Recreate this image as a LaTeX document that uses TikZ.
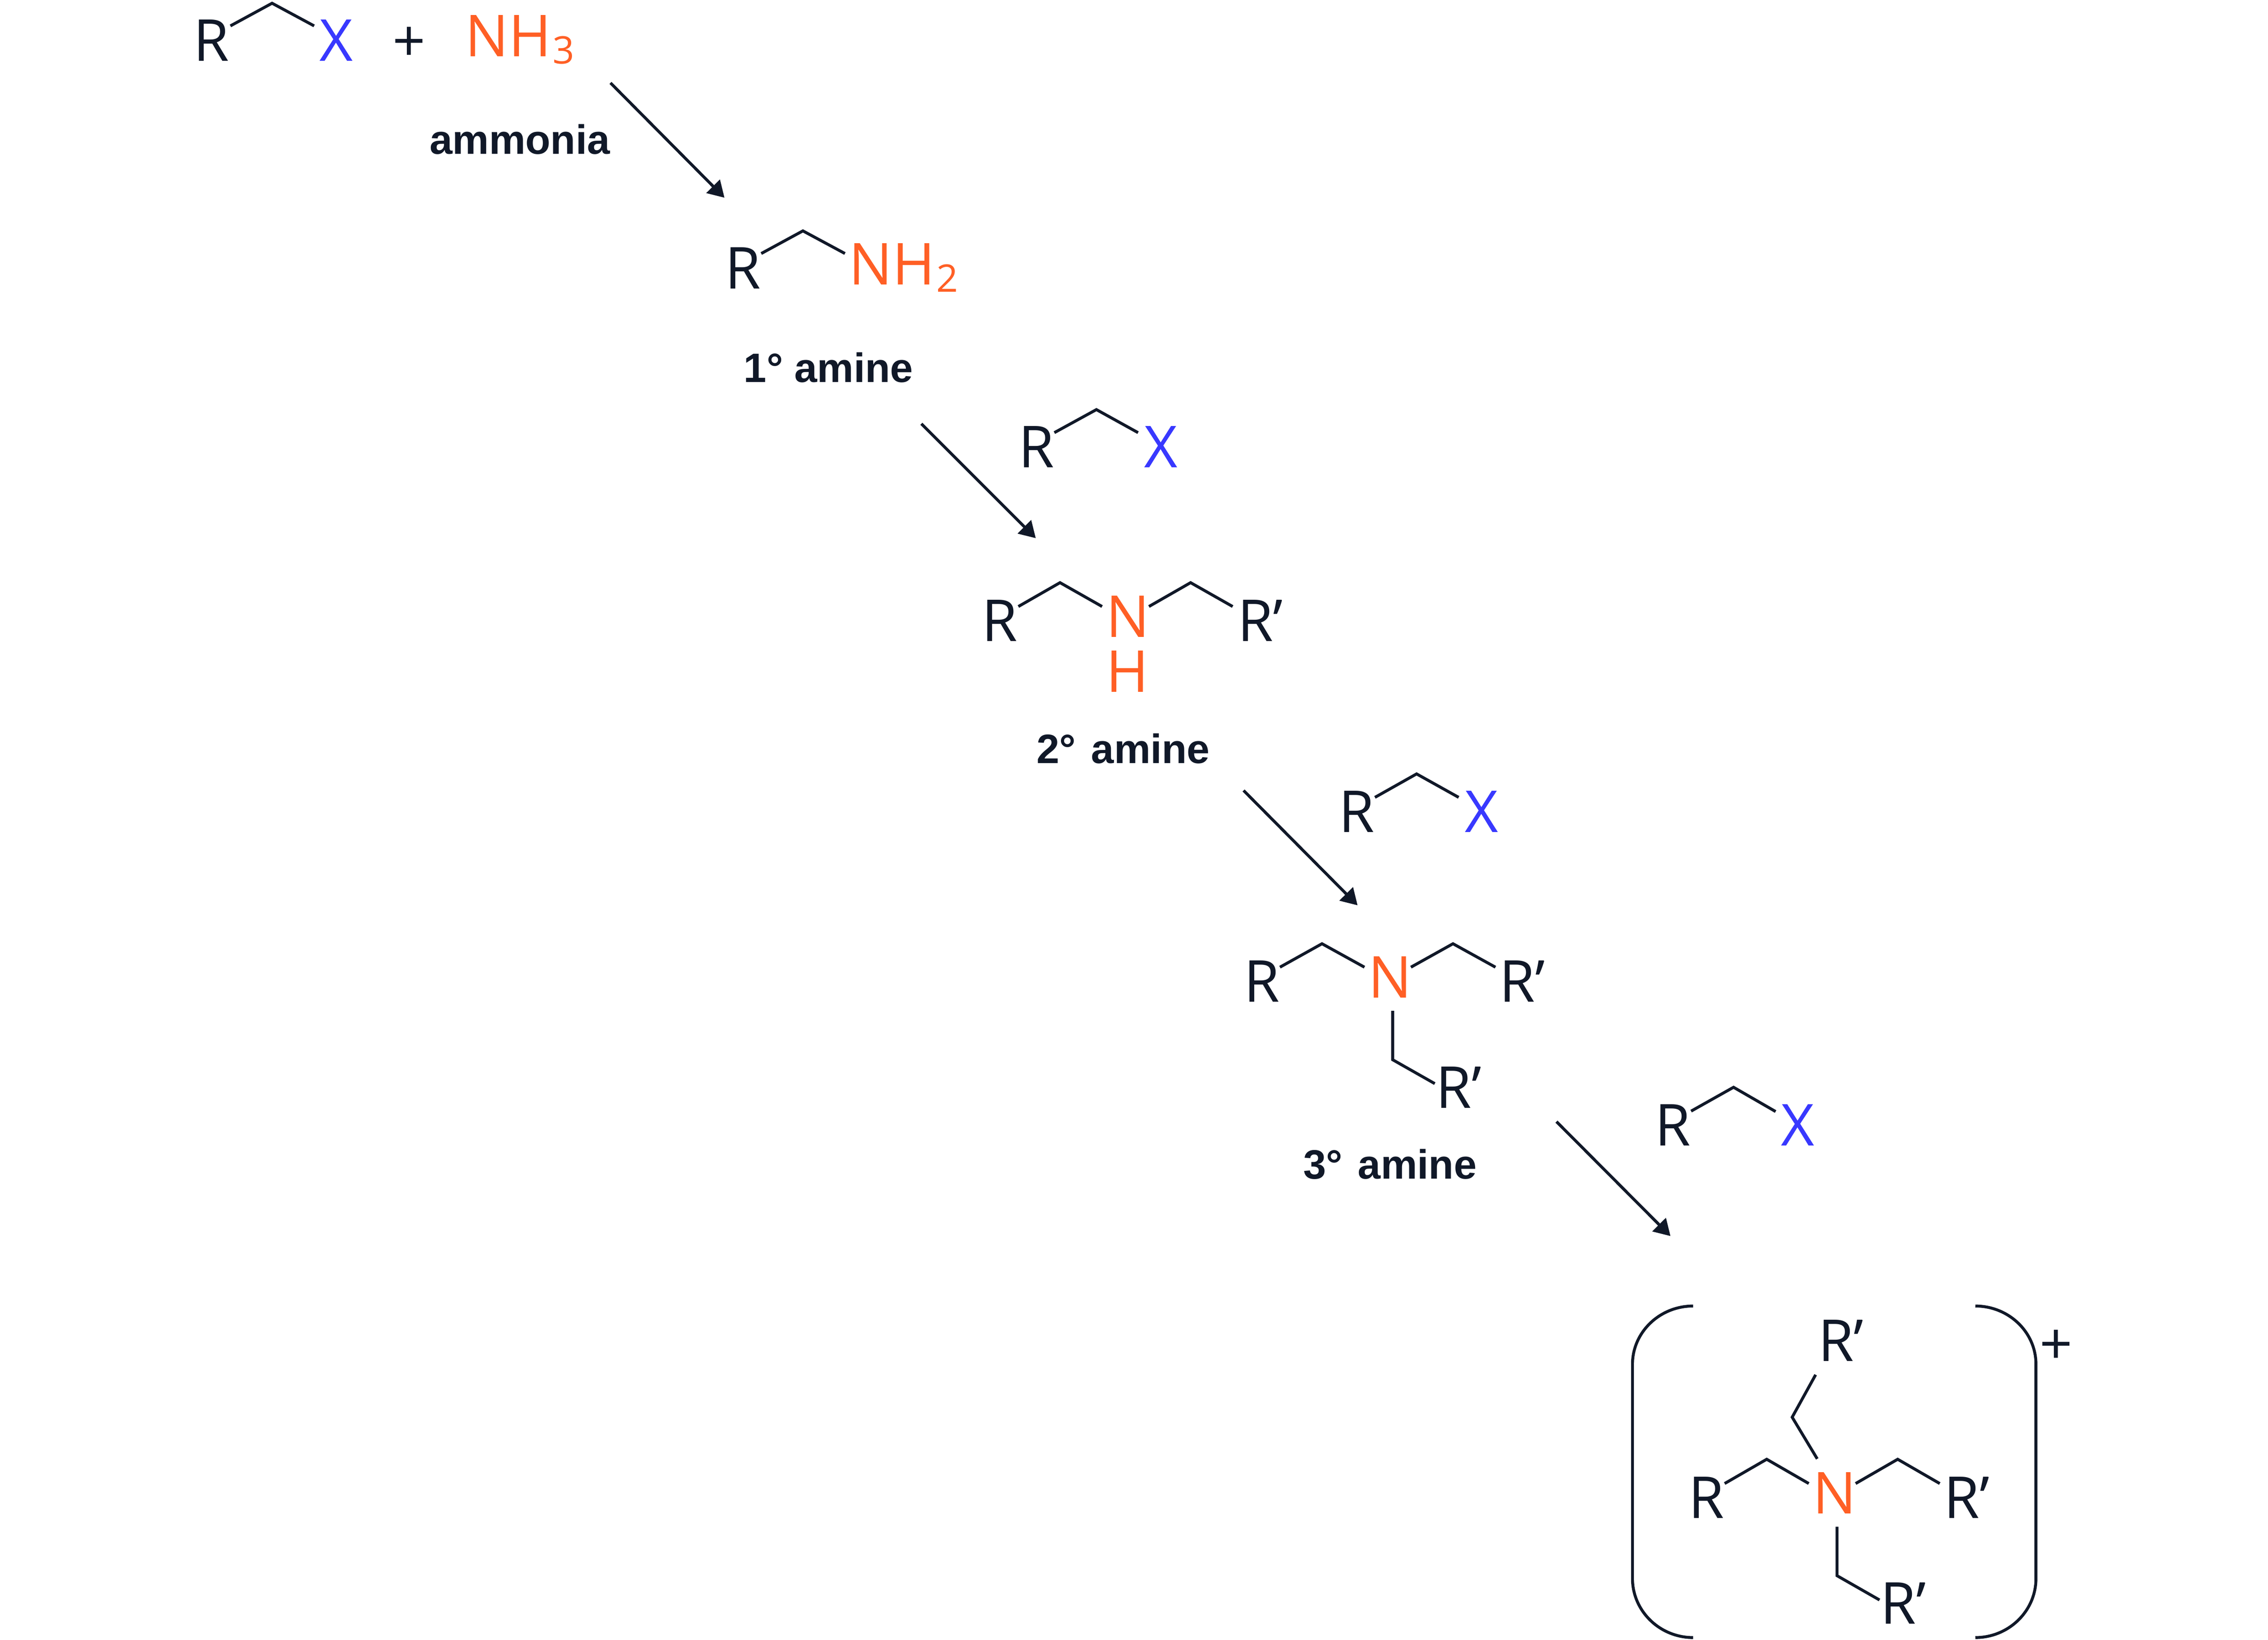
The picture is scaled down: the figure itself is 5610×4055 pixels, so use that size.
\documentclass[tikz,border=0pt]{standalone}
\usepackage{fontspec}
\setmainfont{Open Sans}
\newfontfamily\labelfont{Liberation Sans}
\usetikzlibrary{arrows.meta}
\definecolor{ink}{HTML}{101828}
\definecolor{orangeN}{HTML}{FF5F25}
\definecolor{blueX}{HTML}{3838FF}
\newcommand{\subdigit}[1]{\kern0.3pt\raisebox{-1.8pt}{\fontsize{9.4}{10}\selectfont #1}}
\tikzset{
  atom/.style={inner sep=0pt,outer sep=0pt,anchor=base west,text=ink,font=\fontsize{14.3}{16}\selectfont},
  nitro/.style={atom,text=orangeN},
  halide/.style={atom,text=blueX},
  caption/.style={inner sep=0pt,outer sep=0pt,anchor=base west,text=ink,font=\labelfont\bfseries\fontsize{10.15}{12}\selectfont},
  bond/.style={draw=ink,line width=0.72pt,line join=miter},
  rxn/.style={draw=ink,line width=0.72pt,-{Triangle[length=4pt,width=4.6pt,fill=ink]}},
  bracket/.style={draw=ink,line width=0.72pt},
  plus/.style={inner sep=0pt,outer sep=0pt,text=ink,font=\fontsize{14.3}{16}\selectfont}
}
\begin{document}
\begin{tikzpicture}[x=0.1pt,y=-0.1pt]
\useasboundingbox (0,0) rectangle (5610,4055);
% --- reagents
\node[atom] (r0) at (479,151) {R};
\node[halide] (x0) at (790,151) {X};
\node[plus] (p0) at (1012,110) {+};
\node[nitro] (nh3) at (1151,140) {NH\subdigit{3}};
\coordinate (a0a) at (570,64); \coordinate (a0b) at (673,8); \coordinate (a0c) at (777,64);
\draw[bond] (a0a)--(a0b)--(a0c);
\node[caption] (lab0) at (1063,381) {ammonia};
\coordinate (s1) at (1510,205); \coordinate (t1) at (1792,489);
\draw[rxn] (s1)--(t1);
% --- primary amine
\node[atom] (r1) at (1793,714) {R};
\node[nitro] (nh2) at (2100,704) {NH\subdigit{2}};
\coordinate (a1a) at (1883,627); \coordinate (a1b) at (1986,571); \coordinate (a1c) at (2090,627);
\draw[bond] (a1a)--(a1b)--(a1c);
\node[caption] (lab1) at (1840,945) {1° amine};
\coordinate (s2) at (2279,1048); \coordinate (t2) at (2562,1331);
\draw[rxn] (s2)--(t2);
\node[atom] (r2x) at (2519,1156) {R};
\node[halide] (x2) at (2830,1156) {X};
\coordinate (a2a) at (2608,1070); \coordinate (a2b) at (2712,1013); \coordinate (a2c) at (2815,1070);
\draw[bond] (a2a)--(a2b)--(a2c);
% --- secondary amine
\node[atom] (r3) at (2429,1586) {R};
\node[nitro] (n3) at (2736,1576) {N};
\node[nitro] (h3) at (2736,1712) {H};
\node[atom] (r3p) at (3061,1586) {R’};
\coordinate (a3a) at (2519,1500); \coordinate (a3b) at (2622,1441); \coordinate (a3c) at (2726,1500);
\coordinate (a3d) at (2842,1500); \coordinate (a3e) at (2945,1441); \coordinate (a3f) at (3049,1500);
\draw[bond] (a3a)--(a3b)--(a3c);
\draw[bond] (a3d)--(a3e)--(a3f);
\node[caption] (lab2) at (2564,1888) {2°\kern1pt\ amine};
\coordinate (s3) at (3076,1955); \coordinate (t3) at (3358,2239);
\draw[rxn] (s3)--(t3);
\node[atom] (r4x) at (3311,2058) {R};
\node[halide] (x4) at (3623,2058) {X};
\coordinate (a4a) at (3401,1972); \coordinate (a4b) at (3504,1914); \coordinate (a4c) at (3608,1972);
\draw[bond] (a4a)--(a4b)--(a4c);
% --- tertiary amine
\node[atom] (r5) at (3077,2478) {R};
\node[nitro] (n5) at (3384,2468) {N};
\node[atom] (r5p) at (3709,2478) {R’};
\node[atom] (r5q) at (3552,2740) {R’};
\coordinate (a5a) at (3166,2392); \coordinate (a5b) at (3270,2334); \coordinate (a5c) at (3375,2392);
\coordinate (a5d) at (3490,2392); \coordinate (a5e) at (3594,2334); \coordinate (a5f) at (3699,2392);
\coordinate (a5g) at (3445,2500); \coordinate (a5h) at (3445,2621); \coordinate (a5i) at (3549,2680);
\draw[bond] (a5a)--(a5b)--(a5c);
\draw[bond] (a5d)--(a5e)--(a5f);
\draw[bond] (a5g)--(a5h)--(a5i);
\node[caption] (lab3) at (3224,2916) {3°\kern1pt\ amine};
\coordinate (s4) at (3850,2774); \coordinate (t4) at (4132,3057);
\draw[rxn] (s4)--(t4);
\node[atom] (r6x) at (4094,2834) {R};
\node[halide] (x6) at (4406,2834) {X};
\coordinate (a6a) at (4183,2748); \coordinate (a6b) at (4288,2689); \coordinate (a6c) at (4392,2749);
\draw[bond] (a6a)--(a6b)--(a6c);
% --- quaternary ammonium
\coordinate (bl1) at (4188,3230); \coordinate (bl2) at (4038,3374); \coordinate (bl3) at (4038,3904); \coordinate (bl4) at (4188,4050);
\coordinate (br1) at (4886,3230); \coordinate (br2) at (5036,3374); \coordinate (br3) at (5036,3904); \coordinate (br4) at (4886,4050);
\draw[bracket] (bl1) .. controls (4105,3230) and (4038,3295) .. (bl2) -- (bl3) .. controls (4038,3984) and (4105,4050) .. (bl4);
\draw[bracket] (br1) .. controls (4969,3230) and (5036,3295) .. (br2) -- (br3) .. controls (5036,3984) and (4969,4050) .. (br4);
\node[plus] (p7) at (5086,3332) {+};
\node[atom] (r7t) at (4497,3366) {R’};
\node[atom] (r7) at (4177,3755) {R};
\node[nitro] (n7) at (4484,3744) {N};
\node[atom] (r7p) at (4808,3755) {R’};
\node[atom] (r7q) at (4651,4016) {R’};
\coordinate (a7a) at (4491,3400); \coordinate (a7b) at (4433,3505); \coordinate (a7c) at (4495,3608);
\coordinate (a7d) at (4266,3669); \coordinate (a7e) at (4370,3609); \coordinate (a7f) at (4474,3669);
\coordinate (a7g) at (4590,3669); \coordinate (a7h) at (4694,3609); \coordinate (a7i) at (4798,3669);
\coordinate (a7j) at (4544,3776); \coordinate (a7k) at (4544,3897); \coordinate (a7l) at (4649,3957);
\draw[bond] (a7a)--(a7b)--(a7c);
\draw[bond] (a7d)--(a7e)--(a7f);
\draw[bond] (a7g)--(a7h)--(a7i);
\draw[bond] (a7j)--(a7k)--(a7l);
\end{tikzpicture}
\end{document}
